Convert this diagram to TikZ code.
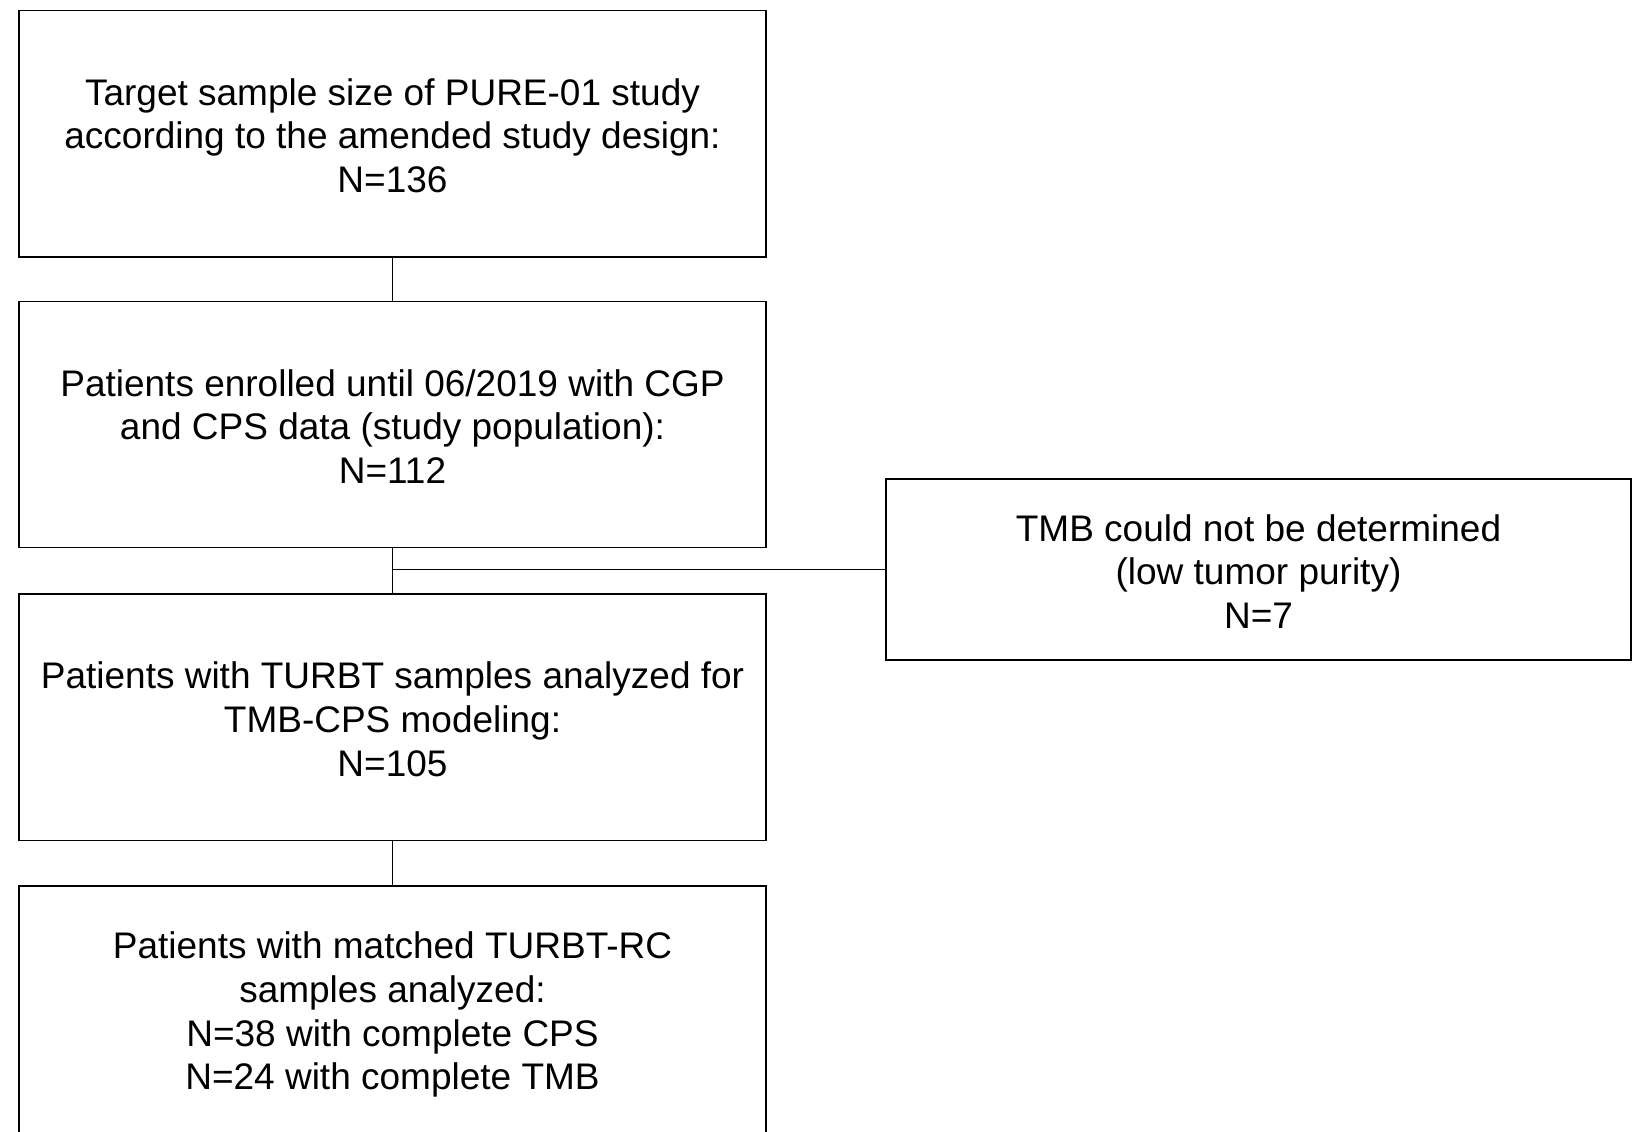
\documentclass[tikz,border=0pt]{standalone}
\usepackage{fontspec}
\setmainfont{Liberation Sans}
\begin{document}
\begin{tikzpicture}[x=1bp,y=-1bp,
  flowbox/.style={draw=black, line width=1.3bp, rectangle, inner sep=0pt},
  mainbox/.style={flowbox, minimum width=747bp, minimum height=246.5bp},
  sidebox/.style={flowbox, minimum width=745bp, minimum height=181bp},
  boxtext/.style={align=center, inner sep=0pt, yshift=-2bp,
    font=\fontsize{37bp}{43.6bp}\selectfont},
  link/.style={draw=black, line width=1.3bp}]
  \useasboundingbox (0,0) rectangle (1645,1131);
  \clip (0,0) rectangle (1645,1131);

  % main column of the flow
  \node[mainbox] (target) at (392.5,133.75) {};
  \node[mainbox] (enrolled) at (392.5,424.5) {};
  \node[mainbox] (turbt) at (392.5,717.25) {};
  \node[mainbox] (matched) at (392.5,1009.25) {};

  % exclusion box
  \node[sidebox] (excluded) at (1258.5,569.5) {};

  % box texts
  \node[boxtext] (targettxt) at (target.center) {Target sample size of PURE-01 study\\according to the amended study design:\\N=136};
  \node[boxtext] (enrolledtxt) at (enrolled.center) {Patients enrolled until 06/2019 with CGP\\and CPS data (study population):\\N=112};
  \node[boxtext] (turbttxt) at (turbt.center) {Patients with TURBT samples analyzed for\\TMB-CPS modeling:\\N=105};
  \node[boxtext, yshift=-3.5bp] (matchedtxt) at (matched.center) {Patients with matched TURBT-RC\\samples analyzed:\\N=38 with complete CPS\\N=24 with complete TMB};
  \node[boxtext] (excludedtxt) at (excluded.center) {TMB could not be determined\\(low tumor purity)\\N=7};

  % connectors
  \draw[link] (target.south) -- (enrolled.north);
  \draw[link] (enrolled.south) -- (turbt.north);
  \coordinate (branch) at (enrolled.south |- excluded.west);
  \draw[link] (branch) -- (excluded.west);
  \draw[link] (turbt.south) -- (matched.north);
\end{tikzpicture}
\end{document}
